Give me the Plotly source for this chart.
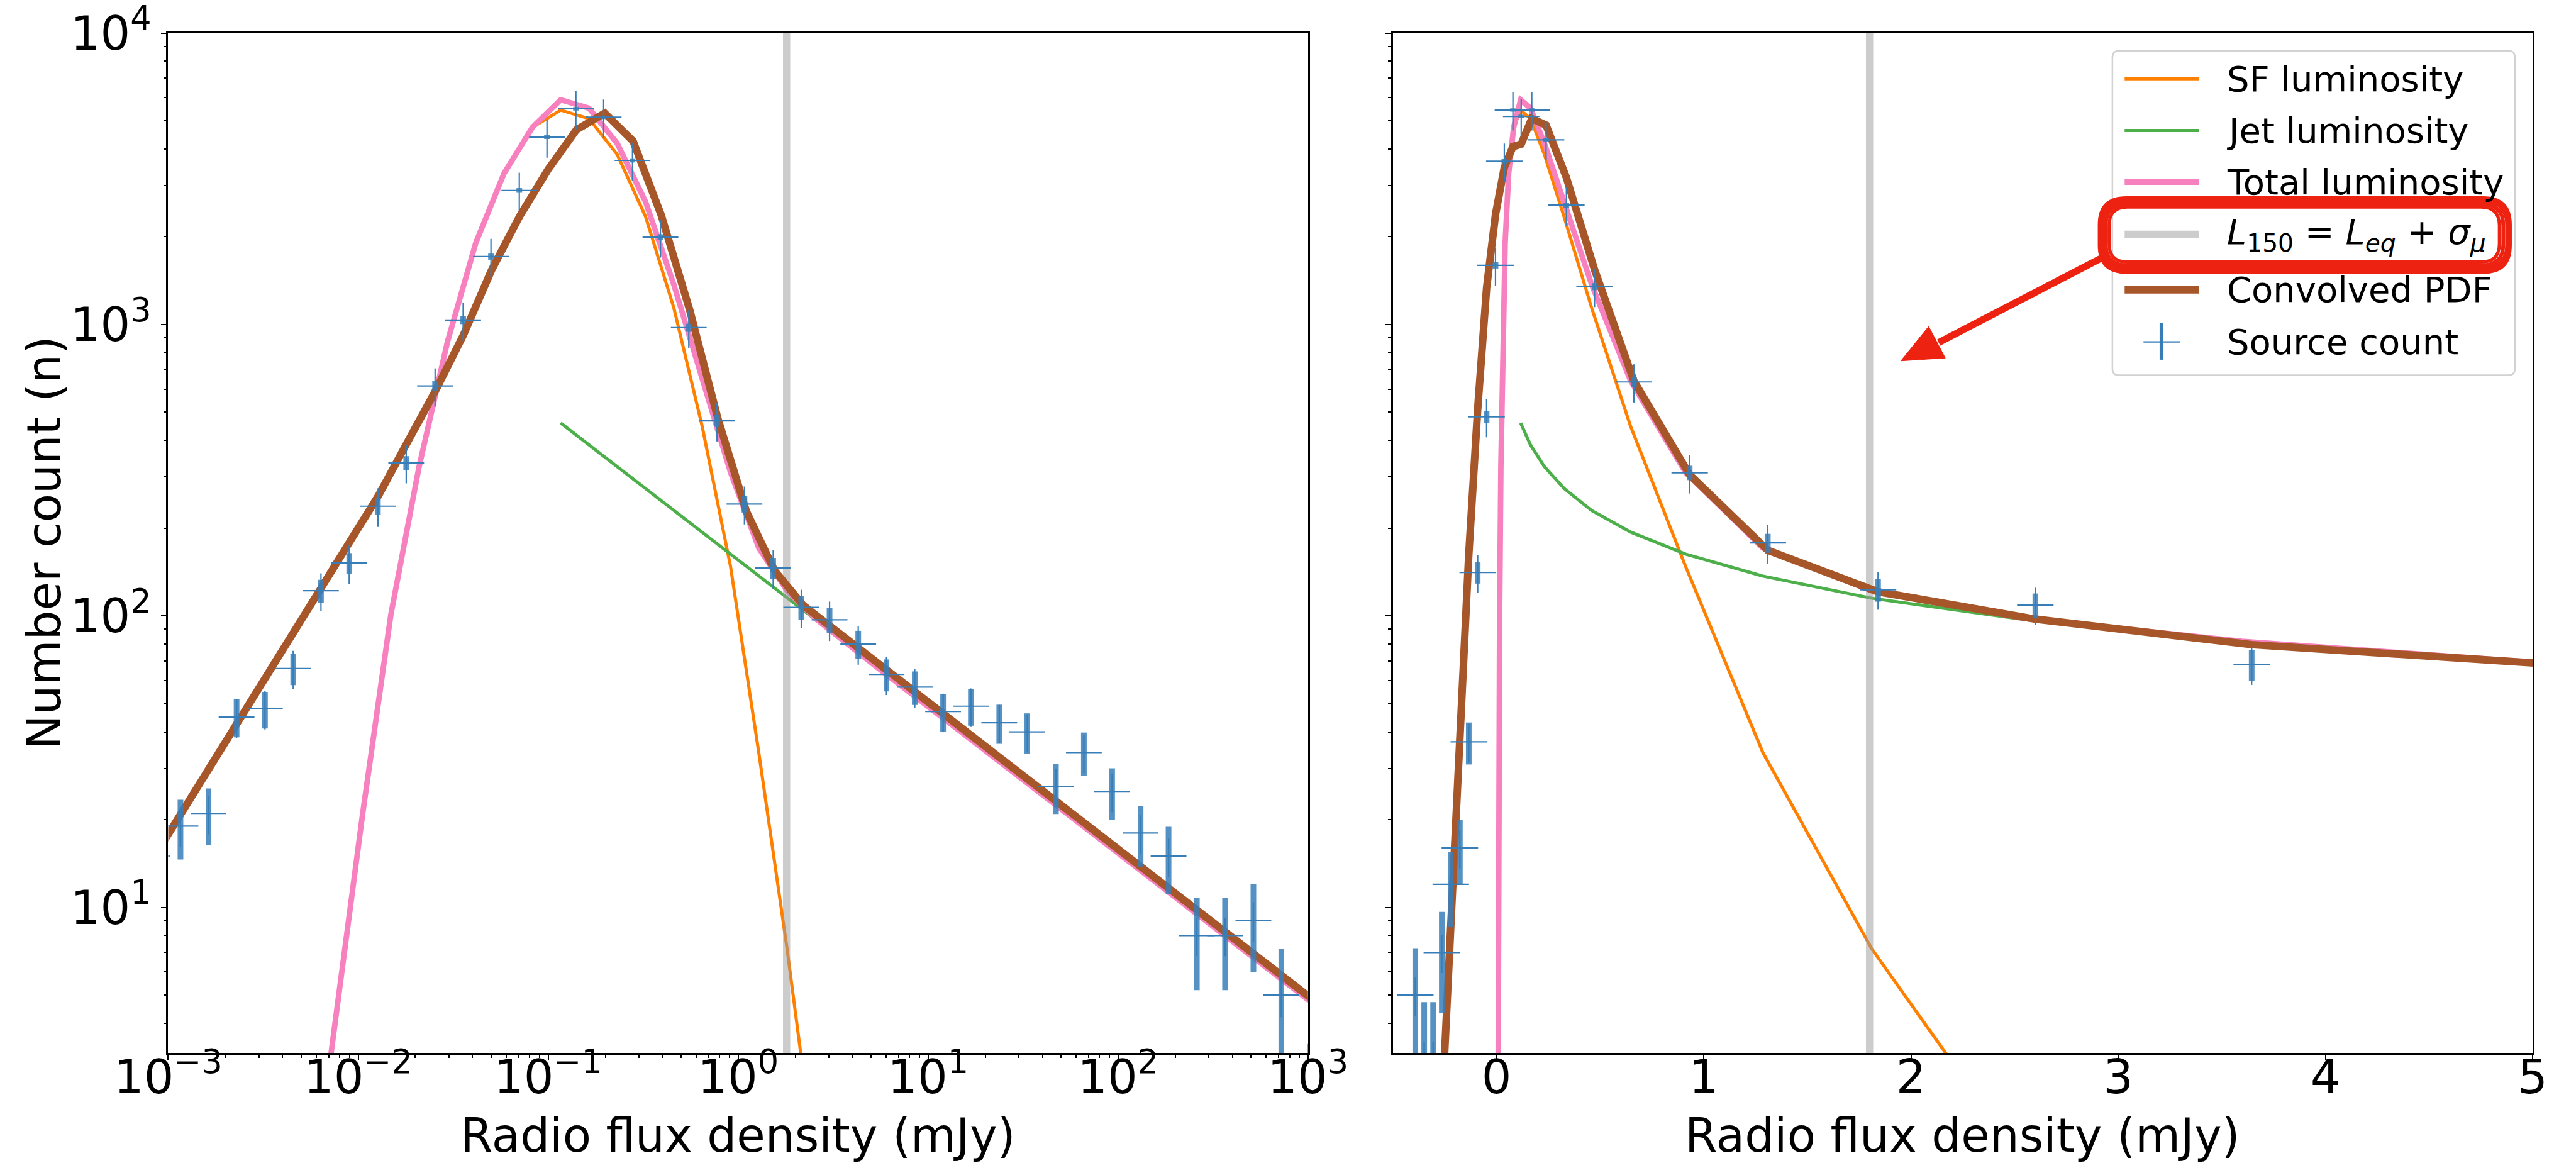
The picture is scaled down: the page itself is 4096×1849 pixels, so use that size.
import plotly.graph_objects as go

# ---------------------------------------------------------------- data
# Left panel: source counts in log-spaced flux bins (mJy)
left_flux = [0.000822, 0.00116, 0.00163, 0.00229, 0.00323, 0.00455, 0.00637, 0.00897,
             0.0127, 0.0179, 0.0254, 0.0357, 0.0500, 0.0705, 0.0986, 0.140, 0.196,
             0.278, 0.390, 0.550, 0.774, 1.08, 1.53, 2.15, 3.03, 4.29, 6.04, 8.51,
             12.0, 16.8, 23.7, 33.3, 47.1, 66.1, 93.1, 131.5, 184.5, 260, 366, 516,
             724, 1021]
left_count = [15, 19, 21, 45, 48, 66, 122, 152, 238, 335, 615, 1035, 1710, 2884, 4395,
              5497, 5140, 3656, 1995, 975, 467, 242, 146, 107, 97, 80, 63, 57, 47, 49,
              43, 40, 26, 34, 25, 18, 15, 8, 8, 9, 5, 2]
left_err_poisson = [3.9, 4.4, 4.6, 6.7, 6.9, 8.1, 11.0, 12.3, 15.4, 18.3, 24.8, 32.2,
                    41.4, 53.7, 66.3, 74.1, 71.7, 60.5, 44.7, 31.2, 21.6, 15.6, 12.1,
                    10.3, 9.8, 8.9, 7.9, 7.5, 6.9, 7.0, 6.6, 6.3, 5.1, 5.8, 5.0, 4.2,
                    3.9, 2.8, 2.8, 3.0, 2.2, 1.4]
left_err_model = [2.3, 2.9, 3.2, 6.8, 7.2, 9.9, 18, 23, 36, 50, 92, 155, 257, 433, 659,
                  825, 771, 548, 299, 146, 70, 36, 22, 16, 15, 12, 9.5, 8.6, 7.1, 7.4,
                  6.5, 6.0, 3.9, 5.1, 3.8, 2.7, 2.3, 1.2, 1.2, 1.4, 0.8, 0.3]
left_xerr_plus_pct = 24.2
left_xerr_minus_pct = 19.5

# Right panel: source counts on a linear flux axis (mJy)
right_flux = [-0.392, -0.349, -0.306, -0.264, -0.221, -0.177, -0.134, -0.091, -0.048,
              -0.005, 0.0375, 0.079, 0.119, 0.170, 0.239, 0.337, 0.473, 0.663, 0.932,
              1.309, 1.841, 2.600, 3.644]
right_count = [5, 3, 3, 7, 12, 16, 37, 141, 482, 1596, 3631, 5445, 5174, 5445, 4299,
               2567, 1349, 635, 310, 178, 123, 109, 68]
right_err_poisson = [2.24, 1.73, 1.73, 2.65, 3.46, 4.0, 6.08, 11.9, 22.0, 40.0, 60.3,
                     73.8, 71.9, 73.8, 65.6, 50.7, 36.7, 25.2, 17.6, 13.3, 11.1, 10.4, 8.2]
right_err_model = [0.75, 0.45, 0.45, 1.05, 1.8, 2.4, 5.6, 21, 72, 239, 545, 817, 776,
                   817, 645, 385, 202, 95, 47, 27, 18, 16, 10]
right_xerr = 0.088

# Model luminosity curves (shared by both panels)
curve_flux = [0.00531, 0.00748, 0.01054, 0.01486, 0.0209, 0.0295, 0.0416, 0.0586,
              0.0826, 0.1164, 0.1641, 0.2312, 0.3258, 0.4592, 0.6471, 0.912, 1.285,
              1.811, 2.553, 3.597, 5.070, 7.145, 20.0, 78.9, 311, 1227]
sf_lum = [0.7, 3.9, 20.8, 101, 324, 871, 1905, 3300, 4744, 5436, 5084, 3828, 2344,
          1138, 447, 148, 34, 7.2, 1.3, 0.15]
jet_flux = [0.1164, 0.1641, 0.2312, 0.3258, 0.4592, 0.6471, 0.912, 1.285, 1.811, 2.553,
            3.597, 5.070, 7.145, 20.0, 78.9, 311, 1227]
jet_lum = [459, 386, 325, 274, 230, 194, 163, 137, 115, 97, 81.8, 68.8, 57.9, 34.5,
           17.3, 8.67, 4.35]
total_lum = [0.7, 3.9, 20.8, 101, 324, 871, 1905, 3300, 4744, 5902, 5522, 4178, 2636,
             1368, 641, 311, 171, 122, 98, 81.8, 68.8, 57.9, 34.5, 17.3, 8.67, 4.35]

# Convolved PDF, evaluated at each panel's bin centres
conv_left_flux = [0.000822, 0.001159, 0.001633, 0.002301, 0.003243, 0.004571, 0.006397,
                  0.009078, 0.0128, 0.01803, 0.0254, 0.0357, 0.0504, 0.0710, 0.1, 0.141,
                  0.1986, 0.280, 0.394, 0.556, 0.783, 1.104, 1.556, 2.193, 3.090, 6.138,
                  12.19, 24.21, 48.08, 95.5, 189.7, 376.7, 748, 1486]
conv_left = [14.5, 20.8, 30, 43.2, 62, 89.5, 128, 183, 259, 391, 589, 916, 1538, 2360,
             3404, 4656, 5309, 4256, 2371, 1122, 475, 229, 143, 109, 91.4, 64.7, 45.8,
             32.4, 22.9, 16.2, 11.5, 8.13, 5.75, 4.07]
conv_right_flux = [-0.264, -0.221, -0.177, -0.134, -0.091, -0.048, -0.005, 0.0375, 0.079,
                   0.119, 0.170, 0.239, 0.337, 0.473, 0.663, 0.932, 1.309, 1.841, 2.600,
                   3.644, 5.14]
conv_right = [2.0, 8.6, 37.4, 162, 512, 1334, 2382, 3460, 4074, 4160, 5085, 4830, 3192,
              1541, 640, 305, 168, 121, 97.5, 79.7, 68]

L150_LIMIT = 1.8  # mJy

x_log_tickvals = [1e-3, 1e-2, 1e-1, 1, 10, 100, 1000]
x_log_ticktext = ["10<sup>−3</sup>", "10<sup>−2</sup>", "10<sup>−1</sup>", "10<sup>0</sup>",
                  "10<sup>1</sup>", "10<sup>2</sup>", "10<sup>3</sup>"]
y_tickvals = [10, 100, 1000, 10000]
y_ticktext = ["10<sup>1</sup>", "10<sup>2</sup>", "10<sup>3</sup>", "10<sup>4</sup>"]
x_lin_tickvals = [0, 1, 2, 3, 4, 5]
x_lin_ticktext = ["0", "1", "2", "3", "4", "5"]

legend_labels = ["SF luminosity", "Jet luminosity", "Total luminosity",
                 "<i>L</i><sub>150</sub> = <i>L</i><sub><i>eq</i></sub> + <i>σ</i><sub><i>μ</i></sub>",
                 "Convolved PDF", "Source count"]
x_title = "Radio flux density (mJy)"
y_title = "Number count (n)"

# ---------------------------------------------------------------- styles
C_BLUE = "#377eb8"
C_BLUE_T = "rgba(55,126,184,0.85)"
C_ORANGE = "#ff7f00"
C_GREEN = "#4daf4a"
C_PINK = "#f781bf"
C_BROWN = "#a65628"
C_GRAY = "rgba(153,153,153,0.5)"
C_RED = "#ee2211"
FONT = "DejaVu Sans"

W_REF, H_REF = 4640.0, 2095.0


def PX(x):
    return x / W_REF


def PY(y):
    return 1 - y / H_REF


LW_SF, LW_JET, LW_TOT, LW_GRAY, LW_CONV = 5, 5, 8.8, 11.5, 12
EB_THIN, EB_THICK = 2.2, 9

fig = go.Figure()


def add_panel(xa, ya, conv_x, conv_y, src_x, src_n, src_pois, src_model, xerr):
    common = dict(xaxis=xa, yaxis=ya, showlegend=False, hoverinfo="skip")
    fig.add_trace(go.Scatter(x=curve_flux[:len(sf_lum)], y=sf_lum, mode="lines",
                             line=dict(color=C_ORANGE, width=LW_SF), **common))
    fig.add_trace(go.Scatter(x=jet_flux, y=jet_lum, mode="lines",
                             line=dict(color=C_GREEN, width=LW_JET), **common))
    fig.add_trace(go.Scatter(x=curve_flux, y=total_lum, mode="lines",
                             line=dict(color=C_PINK, width=LW_TOT), **common))
    fig.add_trace(go.Scatter(x=[L150_LIMIT, L150_LIMIT], y=[1, 1e5], mode="lines",
                             line=dict(color=C_GRAY, width=LW_GRAY), **common))
    fig.add_trace(go.Scatter(x=conv_x, y=conv_y, mode="lines",
                             line=dict(color=C_BROWN, width=LW_CONV), **common))
    # Poisson (thick) error bars
    fig.add_trace(go.Scatter(x=src_x, y=src_n, mode="markers",
                             marker=dict(size=1, color="rgba(0,0,0,0)"),
                             error_y=dict(type="data", array=src_pois, symmetric=True,
                                          thickness=EB_THICK, width=0, color=C_BLUE_T),
                             **common))
    # model (thin) error bars + x error
    fig.add_trace(go.Scatter(x=src_x, y=src_n, mode="markers",
                             marker=dict(size=1, color="rgba(0,0,0,0)"),
                             error_y=dict(type="data", array=src_model, symmetric=True,
                                          thickness=EB_THIN, width=0, color=C_BLUE),
                             error_x=xerr,
                             **common))


add_panel("x", "y", conv_left_flux, conv_left, left_flux, left_count,
          left_err_poisson, left_err_model,
          dict(type="percent", symmetric=False, value=left_xerr_plus_pct,
               valueminus=left_xerr_minus_pct, thickness=EB_THIN, width=0, color=C_BLUE))
add_panel("x2", "y2", conv_right_flux, conv_right, right_flux, right_count,
          right_err_poisson, right_err_model,
          dict(type="constant", value=right_xerr, thickness=EB_THIN, width=0, color=C_BLUE))

# ---------------------------------------------------------------- axes
x_minor_log = [m * 10.0 ** e for e in range(-3, 3) for m in range(2, 10)]
y_minor_log = [m * 10.0 ** e for e in range(0, 4) for m in range(2, 10)]

TICKFONT = dict(family=FONT, size=75, color="black")
TITLEFONT = dict(family=FONT, size=74, color="black")
Y_BOT, Y_TOP = 1897, 59
ydom = [PY(Y_BOT), PY(Y_TOP)]
YRANGE = [0.5, 4.001]

axis_common = dict(showline=True, linecolor="black", linewidth=2.5, mirror=True,
                   ticks="outside", ticklen=9, tickwidth=2.2, tickcolor="black",
                   showgrid=False, zeroline=False, automargin=False, tickfont=TICKFONT,
                   ticklabeloverflow="allow")
minor_style = dict(ticks="outside", ticklen=5, tickwidth=1.8, tickcolor="black",
                   showgrid=False)
XLABEL_SHIFT = -38

fig.update_layout(
    width=4096, height=1849,
    margin=dict(l=0, r=0, t=0, b=0),
    paper_bgcolor="white", plot_bgcolor="white",
    font=dict(family=FONT, color="black"),
    xaxis=dict(type="log", range=[-3, 3], domain=[PX(303), PX(2356)], anchor="y",
               tickmode="array", tickvals=x_log_tickvals, ticktext=x_log_ticktext,
               ticklabelstandoff=XLABEL_SHIFT,
               minor=dict(tickmode="array", tickvals=x_minor_log, **minor_style),
               **axis_common),
    yaxis=dict(type="log", range=YRANGE, domain=ydom, anchor="x",
               tickmode="array", tickvals=y_tickvals, ticktext=y_ticktext,
               minor=dict(tickmode="array", tickvals=y_minor_log, **minor_style),
               **axis_common),
    xaxis2=dict(type="linear", range=[-0.5, 5], domain=[PX(2509), PX(4562)], anchor="y2",
                tickmode="array", tickvals=x_lin_tickvals, ticktext=x_lin_ticktext,
                ticklabelstandoff=XLABEL_SHIFT,
                **axis_common),
    yaxis2=dict(type="log", range=YRANGE, domain=ydom, anchor="x2", matches="y",
                tickmode="array", tickvals=y_tickvals, ticktext=y_ticktext,
                showticklabels=False,
                minor=dict(tickmode="array", tickvals=y_minor_log, **minor_style),
                **axis_common),
)

# ---------------------------------------------------------------- legend (drawn)
def rrect(x0, y0, x1, y1, r):
    pts = [("M", (x0 + r, y0)), ("L", (x1 - r, y0)), ("Q", (x1, y0), (x1, y0 + r)),
           ("L", (x1, y1 - r)), ("Q", (x1, y1), (x1 - r, y1)), ("L", (x0 + r, y1)),
           ("Q", (x0, y1), (x0, y1 - r)), ("L", (x0, y0 + r)), ("Q", (x0, y0), (x0 + r, y0))]
    s = ""
    for item in pts:
        cmd = item[0]
        coords = " ".join(f"{PX(p[0]):.6f},{PY(p[1]):.6f}" for p in item[1:])
        s += f"{cmd} {coords} "
    return s + "Z"


shapes = []
shapes.append(dict(type="path", xref="paper", yref="paper", layer="above",
                   path=rrect(3805, 91.5, 4530, 676, 12),
                   fillcolor="rgba(255,255,255,0.8)", line=dict(color="#d2d2d2", width=2.5)))

row_y = [142, 235, 328, 422, 522, 616]
leg_styles = [(C_ORANGE, LW_SF), (C_GREEN, LW_JET), (C_PINK, LW_TOT),
              (C_GRAY, LW_GRAY), (C_BROWN, LW_CONV)]
for (col, w), yy in zip(leg_styles, row_y[:5]):
    shapes.append(dict(type="line", xref="paper", yref="paper", layer="above",
                       x0=PX(3827), x1=PX(3961), y0=PY(yy), y1=PY(yy),
                       line=dict(color=col, width=w)))
# errorbar symbol
shapes.append(dict(type="line", xref="paper", yref="paper", layer="above",
                   x0=PX(3893), x1=PX(3893), y0=PY(582), y1=PY(648),
                   line=dict(color=C_BLUE, width=5.3)))
shapes.append(dict(type="line", xref="paper", yref="paper", layer="above",
                   x0=PX(3861), x1=PX(3927), y0=PY(616), y1=PY(616),
                   line=dict(color=C_BLUE, width=EB_THIN)))

annotations = []
for lab, yy in zip(legend_labels, row_y):
    annotations.append(dict(text=lab, x=PX(4009), y=PY(yy), xref="paper", yref="paper",
                            xanchor="left", yanchor="middle", showarrow=False,
                            font=dict(family=FONT, size=56, color="black")))

# axis titles
for xc in [(303 + 2356) / 2, (2509 + 4562) / 2]:
    annotations.append(dict(text=x_title, x=PX(xc), y=PY(2045), xref="paper", yref="paper",
                            xanchor="center", yanchor="middle", showarrow=False,
                            font=TITLEFONT))
annotations.append(dict(text=y_title, x=PX(80), y=PY((Y_BOT + Y_TOP) / 2), xref="paper",
                        yref="paper", xanchor="center", yanchor="middle", showarrow=False,
                        textangle=-90, font=TITLEFONT))

# red hand-drawn highlight and arrow
for (x0, y0, x1, y1, r, w) in [(3782, 357, 4521, 490, 48, 6), (3787, 362, 4516, 484, 44, 6),
                                (3793, 368, 4509, 478, 38, 6), (3799, 373, 4502, 472, 33, 5)]:
    shapes.append(dict(type="path", xref="paper", yref="paper", layer="above",
                       path=rrect(x0, y0, x1, y1, r), line=dict(color=C_RED, width=w)))
shapes.append(dict(type="line", xref="paper", yref="paper", layer="above",
                   x0=PX(3785), y0=PY(465), x1=PX(3492), y1=PY(617),
                   line=dict(color=C_RED, width=11)))
tip = (3424, 650)
c1 = (3504, 645)
c2 = (3474, 588)
shapes.append(dict(type="path", xref="paper", yref="paper", layer="above",
                   path=f"M {PX(tip[0])},{PY(tip[1])} L {PX(c1[0])},{PY(c1[1])} "
                        f"L {PX(c2[0])},{PY(c2[1])} Z",
                   fillcolor=C_RED, line=dict(color=C_RED, width=1)))

fig.update_layout(shapes=shapes, annotations=annotations)
fig.write_html("out.html")
